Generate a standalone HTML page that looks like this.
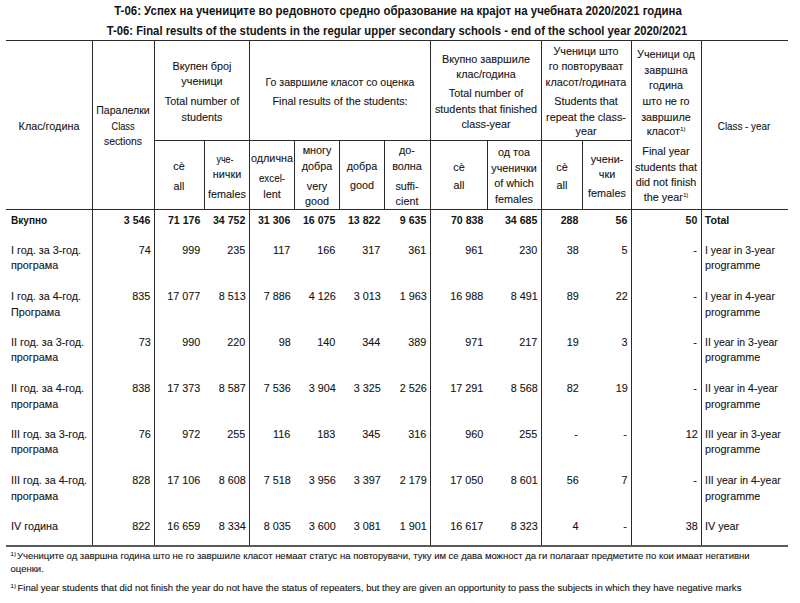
<!DOCTYPE html>
<html><head><meta charset="utf-8"><style>
html,body{margin:0;padding:0;background:#fff;width:800px;height:603px;overflow:hidden}
#root{position:relative;width:800px;height:603px;overflow:hidden;background:#fff}
.t{position:absolute;font-family:'Liberation Sans', sans-serif;font-size:10.8px;line-height:20px;white-space:nowrap;color:#141414;-webkit-text-stroke:0.1px #141414}
.b{-webkit-text-stroke:0}
.l{position:absolute;background:#2a2a2a}
sup{font-size:6px;vertical-align:0;position:relative;top:-4px;margin-left:0.3px}
sup.fs{font-size:6px;top:-3.5px;margin-left:0;margin-right:1px}
</style></head><body><div id="root">
<div class="l" style="left:6px;top:40px;width:782px;height:1px"></div>
<div class="l" style="left:6px;top:209px;width:782px;height:1px"></div>
<div class="l" style="left:6px;top:545px;width:782px;height:2px;background:#5a5a5a"></div>
<div class="l" style="left:154px;top:140px;width:477px;height:1px"></div>
<div class="l" style="left:92px;top:40px;width:1px;height:505px"></div>
<div class="l" style="left:154px;top:40px;width:1px;height:505px"></div>
<div class="l" style="left:249px;top:40px;width:1px;height:505px"></div>
<div class="l" style="left:430px;top:40px;width:1px;height:505px"></div>
<div class="l" style="left:541px;top:40px;width:1px;height:505px"></div>
<div class="l" style="left:631px;top:40px;width:1px;height:505px"></div>
<div class="l" style="left:701px;top:40px;width:1px;height:505px"></div>
<div class="l" style="left:204px;top:140px;width:1px;height:69px"></div>
<div class="l" style="left:294px;top:140px;width:1px;height:69px"></div>
<div class="l" style="left:339px;top:140px;width:1px;height:69px"></div>
<div class="l" style="left:384px;top:140px;width:1px;height:69px"></div>
<div class="l" style="left:487px;top:140px;width:1px;height:69px"></div>
<div class="l" style="left:582px;top:140px;width:1px;height:69px"></div>
<div class="t b" style="left:398.10px;top:1px;transform:translateX(-50%) scaleX(0.9152);font-size:12.5px;font-weight:700">T-06: Успех на учениците во редовното средно образование на крајот на учебната 2020/2021 година</div>
<div class="t b" style="left:396.60px;top:21px;transform:translateX(-50%) scaleX(0.9105);font-size:12.4px;font-weight:700">T-06: Final results of the students in the regular upper secondary schools - end of the school year 2020/2021</div>
<div class="t" style="left:49.40px;top:116px;transform:translateX(-50%) scaleX(0.9391);font-size:11.5px">Клас/година</div>
<div class="t" style="left:123.30px;top:100px;transform:translateX(-50%) scaleX(0.9166);font-size:11.5px">Паралелки</div>
<div class="t" style="left:123.30px;top:116px;transform:translateX(-50%) scaleX(0.7983);font-size:11.5px">Class</div>
<div class="t" style="left:123.30px;top:131px;transform:translateX(-50%) scaleX(0.9016);font-size:11.5px">sections</div>
<div class="t" style="left:201.80px;top:56px;transform:translateX(-50%) scaleX(0.9391);font-size:11.5px">Вкупен број</div>
<div class="t" style="left:201.80px;top:71px;transform:translateX(-50%) scaleX(0.9391);font-size:11.5px">ученици</div>
<div class="t" style="left:201.80px;top:91px;transform:translateX(-50%) scaleX(0.9391);font-size:11.5px">Total number of</div>
<div class="t" style="left:201.80px;top:107px;transform:translateX(-50%) scaleX(0.9391);font-size:11.5px">students</div>
<div class="t" style="left:339.80px;top:72px;transform:translateX(-50%) scaleX(0.9147);font-size:11.5px">Го завршиле класот со оценка</div>
<div class="t" style="left:339.80px;top:91px;transform:translateX(-50%) scaleX(0.9391);font-size:11.5px">Final results of the students:</div>
<div class="t" style="left:485.80px;top:49px;transform:translateX(-50%) scaleX(0.9391);font-size:11.5px">Вкупно завршиле</div>
<div class="t" style="left:485.80px;top:64px;transform:translateX(-50%) scaleX(0.9391);font-size:11.5px">клас/година</div>
<div class="t" style="left:485.80px;top:83px;transform:translateX(-50%) scaleX(0.9391);font-size:11.5px">Total number of</div>
<div class="t" style="left:485.80px;top:99px;transform:translateX(-50%) scaleX(0.9391);font-size:11.5px">students that finished</div>
<div class="t" style="left:485.80px;top:114px;transform:translateX(-50%) scaleX(0.9391);font-size:11.5px">class-year</div>
<div class="t" style="left:586.30px;top:41px;transform:translateX(-50%) scaleX(0.9391);font-size:11.5px">Ученици што</div>
<div class="t" style="left:586.30px;top:56px;transform:translateX(-50%) scaleX(0.9391);font-size:11.5px">го повторуваат</div>
<div class="t" style="left:586.30px;top:72px;transform:translateX(-50%) scaleX(0.9391);font-size:11.5px">класот/годината</div>
<div class="t" style="left:586.30px;top:91px;transform:translateX(-50%) scaleX(0.9391);font-size:11.5px">Students that</div>
<div class="t" style="left:586.30px;top:107px;transform:translateX(-50%) scaleX(0.9391);font-size:11.5px">repeat the class-</div>
<div class="t" style="left:586.30px;top:121px;transform:translateX(-50%) scaleX(0.9391);font-size:11.5px">year</div>
<div class="t" style="left:666.30px;top:44px;transform:translateX(-50%) scaleX(0.9391);font-size:11.5px">Ученици од</div>
<div class="t" style="left:666.30px;top:60px;transform:translateX(-50%) scaleX(0.9391);font-size:11.5px">завршна</div>
<div class="t" style="left:666.30px;top:75px;transform:translateX(-50%) scaleX(0.9391);font-size:11.5px">година</div>
<div class="t" style="left:666.30px;top:91px;transform:translateX(-50%) scaleX(0.9391);font-size:11.5px">што не го</div>
<div class="t" style="left:666.30px;top:107px;transform:translateX(-50%) scaleX(0.9391);font-size:11.5px">завршиле</div>
<div class="t" style="left:666.30px;top:121px;transform:translateX(-50%) scaleX(0.9391);font-size:11.5px">класот<sup>1)</sup></div>
<div class="t" style="left:666.30px;top:141px;transform:translateX(-50%) scaleX(0.9391);font-size:11.5px">Final year</div>
<div class="t" style="left:666.30px;top:157px;transform:translateX(-50%) scaleX(0.9391);font-size:11.5px">students that</div>
<div class="t" style="left:666.30px;top:172px;transform:translateX(-50%) scaleX(0.9391);font-size:11.5px">did not finish</div>
<div class="t" style="left:666.30px;top:187px;transform:translateX(-50%) scaleX(0.9391);font-size:11.5px">the year<sup>1)</sup></div>
<div class="t" style="left:744.30px;top:116px;transform:translateX(-50%) scaleX(0.8546);font-size:11.5px">Class - year</div>
<div class="t" style="left:179.30px;top:156px;transform:translateX(-50%) scaleX(0.9391);font-size:11.5px">сè</div>
<div class="t" style="left:179.30px;top:176px;transform:translateX(-50%) scaleX(0.9391);font-size:11.5px">all</div>
<div class="t" style="left:225.30px;top:149px;transform:translateX(-50%) scaleX(0.7795);font-size:11.5px">уче-</div>
<div class="t" style="left:226.80px;top:164px;transform:translateX(-50%) scaleX(0.9391);font-size:11.5px">нички</div>
<div class="t" style="left:226.80px;top:184px;transform:translateX(-50%) scaleX(0.9391);font-size:11.5px">females</div>
<div class="t" style="left:272.00px;top:148px;transform:translateX(-50%) scaleX(0.9391);font-size:11.5px">одлична</div>
<div class="t" style="left:272.00px;top:168px;transform:translateX(-50%) scaleX(0.8546);font-size:11.5px">excel-</div>
<div class="t" style="left:272.00px;top:184px;transform:translateX(-50%) scaleX(0.9391);font-size:11.5px">lent</div>
<div class="t" style="left:316.80px;top:140px;transform:translateX(-50%) scaleX(0.9391);font-size:11.5px">многу</div>
<div class="t" style="left:316.80px;top:156px;transform:translateX(-50%) scaleX(0.9391);font-size:11.5px">добра</div>
<div class="t" style="left:316.80px;top:176px;transform:translateX(-50%) scaleX(0.9391);font-size:11.5px">very</div>
<div class="t" style="left:316.80px;top:191px;transform:translateX(-50%) scaleX(0.9391);font-size:11.5px">good</div>
<div class="t" style="left:362.00px;top:156px;transform:translateX(-50%) scaleX(0.9391);font-size:11.5px">добра</div>
<div class="t" style="left:362.00px;top:175px;transform:translateX(-50%) scaleX(0.9391);font-size:11.5px">good</div>
<div class="t" style="left:407.30px;top:140px;transform:translateX(-50%) scaleX(0.9391);font-size:11.5px">до-</div>
<div class="t" style="left:407.30px;top:156px;transform:translateX(-50%) scaleX(0.9391);font-size:11.5px">волна</div>
<div class="t" style="left:407.30px;top:176px;transform:translateX(-50%) scaleX(0.9391);font-size:11.5px">suffi-</div>
<div class="t" style="left:407.30px;top:191px;transform:translateX(-50%) scaleX(0.9391);font-size:11.5px">cient</div>
<div class="t" style="left:458.80px;top:157px;transform:translateX(-50%) scaleX(0.9391);font-size:11.5px">сè</div>
<div class="t" style="left:458.80px;top:175px;transform:translateX(-50%) scaleX(0.9391);font-size:11.5px">all</div>
<div class="t" style="left:514.30px;top:142px;transform:translateX(-50%) scaleX(0.9391);font-size:11.5px">од тоа</div>
<div class="t" style="left:514.30px;top:158px;transform:translateX(-50%) scaleX(0.9391);font-size:11.5px">ученички</div>
<div class="t" style="left:514.30px;top:173px;transform:translateX(-50%) scaleX(0.9391);font-size:11.5px">of which</div>
<div class="t" style="left:514.30px;top:189px;transform:translateX(-50%) scaleX(0.9391);font-size:11.5px">females</div>
<div class="t" style="left:561.80px;top:157px;transform:translateX(-50%) scaleX(0.9391);font-size:11.5px">сè</div>
<div class="t" style="left:561.80px;top:175px;transform:translateX(-50%) scaleX(0.9391);font-size:11.5px">all</div>
<div class="t" style="left:606.80px;top:149px;transform:translateX(-50%) scaleX(0.9391);font-size:11.5px">учени-</div>
<div class="t" style="left:606.80px;top:164px;transform:translateX(-50%) scaleX(0.9391);font-size:11.5px">чки</div>
<div class="t" style="left:606.80px;top:183px;transform:translateX(-50%) scaleX(0.9391);font-size:11.5px">females</div>
<div class="t b" style="left:11.00px;top:210px;transform:scaleX(0.9500);transform-origin:left;font-size:10.6px;font-weight:700">Вкупно</div>
<div class="t b" style="right:649.70px;text-align:right;top:210px;font-size:10.6px;font-weight:700">3 546</div>
<div class="t b" style="right:599.70px;text-align:right;top:210px;font-size:10.6px;font-weight:700">71 176</div>
<div class="t b" style="right:554.70px;text-align:right;top:210px;font-size:10.6px;font-weight:700">34 752</div>
<div class="t b" style="right:509.70px;text-align:right;top:210px;font-size:10.6px;font-weight:700">31 306</div>
<div class="t b" style="right:464.70px;text-align:right;top:210px;font-size:10.6px;font-weight:700">16 075</div>
<div class="t b" style="right:419.70px;text-align:right;top:210px;font-size:10.6px;font-weight:700">13 822</div>
<div class="t b" style="right:373.70px;text-align:right;top:210px;font-size:10.6px;font-weight:700">9 635</div>
<div class="t b" style="right:316.70px;text-align:right;top:210px;font-size:10.6px;font-weight:700">70 838</div>
<div class="t b" style="right:262.70px;text-align:right;top:210px;font-size:10.6px;font-weight:700">34 685</div>
<div class="t b" style="right:221.70px;text-align:right;top:210px;font-size:10.6px;font-weight:700">288</div>
<div class="t b" style="right:172.70px;text-align:right;top:210px;font-size:10.6px;font-weight:700">56</div>
<div class="t b" style="right:102.70px;text-align:right;top:210px;font-size:10.6px;font-weight:700">50</div>
<div class="t b" style="left:704.80px;top:210px;font-size:10.6px;font-weight:700">Total</div>
<div class="t" style="left:11.00px;top:240px;transform:scaleX(0.9391);transform-origin:left;font-size:11.5px">I год. за 3-год.</div>
<div class="t" style="left:11.00px;top:255px;transform:scaleX(0.9391);transform-origin:left;font-size:11.5px">програма</div>
<div class="t" style="right:649.70px;text-align:right;top:240px;transform:scaleX(0.9391);transform-origin:right;font-size:11.5px">74</div>
<div class="t" style="right:599.70px;text-align:right;top:240px;transform:scaleX(0.9391);transform-origin:right;font-size:11.5px">999</div>
<div class="t" style="right:554.70px;text-align:right;top:240px;transform:scaleX(0.9391);transform-origin:right;font-size:11.5px">235</div>
<div class="t" style="right:509.70px;text-align:right;top:240px;transform:scaleX(0.9391);transform-origin:right;font-size:11.5px">117</div>
<div class="t" style="right:464.70px;text-align:right;top:240px;transform:scaleX(0.9391);transform-origin:right;font-size:11.5px">166</div>
<div class="t" style="right:419.70px;text-align:right;top:240px;transform:scaleX(0.9391);transform-origin:right;font-size:11.5px">317</div>
<div class="t" style="right:373.70px;text-align:right;top:240px;transform:scaleX(0.9391);transform-origin:right;font-size:11.5px">361</div>
<div class="t" style="right:316.70px;text-align:right;top:240px;transform:scaleX(0.9391);transform-origin:right;font-size:11.5px">961</div>
<div class="t" style="right:262.70px;text-align:right;top:240px;transform:scaleX(0.9391);transform-origin:right;font-size:11.5px">230</div>
<div class="t" style="right:221.70px;text-align:right;top:240px;transform:scaleX(0.9391);transform-origin:right;font-size:11.5px">38</div>
<div class="t" style="right:172.70px;text-align:right;top:240px;transform:scaleX(0.9391);transform-origin:right;font-size:11.5px">5</div>
<div class="t" style="right:102.70px;text-align:right;top:240px;transform:scaleX(0.9391);transform-origin:right;font-size:11.5px">-</div>
<div class="t" style="left:704.80px;top:240px;transform:scaleX(0.9110);transform-origin:left;font-size:11.5px">I year in 3-year</div>
<div class="t" style="left:704.80px;top:255px;transform:scaleX(0.9391);transform-origin:left;font-size:11.5px">programme</div>
<div class="t" style="left:11.00px;top:286px;transform:scaleX(0.9391);transform-origin:left;font-size:11.5px">I год. за 4-год.</div>
<div class="t" style="left:11.00px;top:302px;transform:scaleX(0.9391);transform-origin:left;font-size:11.5px">Програма</div>
<div class="t" style="right:649.70px;text-align:right;top:286px;transform:scaleX(0.9391);transform-origin:right;font-size:11.5px">835</div>
<div class="t" style="right:599.70px;text-align:right;top:286px;transform:scaleX(0.9391);transform-origin:right;font-size:11.5px">17 077</div>
<div class="t" style="right:554.70px;text-align:right;top:286px;transform:scaleX(0.9391);transform-origin:right;font-size:11.5px">8 513</div>
<div class="t" style="right:509.70px;text-align:right;top:286px;transform:scaleX(0.9391);transform-origin:right;font-size:11.5px">7 886</div>
<div class="t" style="right:464.70px;text-align:right;top:286px;transform:scaleX(0.9391);transform-origin:right;font-size:11.5px">4 126</div>
<div class="t" style="right:419.70px;text-align:right;top:286px;transform:scaleX(0.9391);transform-origin:right;font-size:11.5px">3 013</div>
<div class="t" style="right:373.70px;text-align:right;top:286px;transform:scaleX(0.9391);transform-origin:right;font-size:11.5px">1 963</div>
<div class="t" style="right:316.70px;text-align:right;top:286px;transform:scaleX(0.9391);transform-origin:right;font-size:11.5px">16 988</div>
<div class="t" style="right:262.70px;text-align:right;top:286px;transform:scaleX(0.9391);transform-origin:right;font-size:11.5px">8 491</div>
<div class="t" style="right:221.70px;text-align:right;top:286px;transform:scaleX(0.9391);transform-origin:right;font-size:11.5px">89</div>
<div class="t" style="right:172.70px;text-align:right;top:286px;transform:scaleX(0.9391);transform-origin:right;font-size:11.5px">22</div>
<div class="t" style="right:102.70px;text-align:right;top:286px;transform:scaleX(0.9391);transform-origin:right;font-size:11.5px">-</div>
<div class="t" style="left:704.80px;top:286px;transform:scaleX(0.9110);transform-origin:left;font-size:11.5px">I year in 4-year</div>
<div class="t" style="left:704.80px;top:302px;transform:scaleX(0.9391);transform-origin:left;font-size:11.5px">programme</div>
<div class="t" style="left:11.00px;top:332px;transform:scaleX(0.9391);transform-origin:left;font-size:11.5px">II год. за 3-год.</div>
<div class="t" style="left:11.00px;top:347px;transform:scaleX(0.9391);transform-origin:left;font-size:11.5px">програма</div>
<div class="t" style="right:649.70px;text-align:right;top:332px;transform:scaleX(0.9391);transform-origin:right;font-size:11.5px">73</div>
<div class="t" style="right:599.70px;text-align:right;top:332px;transform:scaleX(0.9391);transform-origin:right;font-size:11.5px">990</div>
<div class="t" style="right:554.70px;text-align:right;top:332px;transform:scaleX(0.9391);transform-origin:right;font-size:11.5px">220</div>
<div class="t" style="right:509.70px;text-align:right;top:332px;transform:scaleX(0.9391);transform-origin:right;font-size:11.5px">98</div>
<div class="t" style="right:464.70px;text-align:right;top:332px;transform:scaleX(0.9391);transform-origin:right;font-size:11.5px">140</div>
<div class="t" style="right:419.70px;text-align:right;top:332px;transform:scaleX(0.9391);transform-origin:right;font-size:11.5px">344</div>
<div class="t" style="right:373.70px;text-align:right;top:332px;transform:scaleX(0.9391);transform-origin:right;font-size:11.5px">389</div>
<div class="t" style="right:316.70px;text-align:right;top:332px;transform:scaleX(0.9391);transform-origin:right;font-size:11.5px">971</div>
<div class="t" style="right:262.70px;text-align:right;top:332px;transform:scaleX(0.9391);transform-origin:right;font-size:11.5px">217</div>
<div class="t" style="right:221.70px;text-align:right;top:332px;transform:scaleX(0.9391);transform-origin:right;font-size:11.5px">19</div>
<div class="t" style="right:172.70px;text-align:right;top:332px;transform:scaleX(0.9391);transform-origin:right;font-size:11.5px">3</div>
<div class="t" style="right:102.70px;text-align:right;top:332px;transform:scaleX(0.9391);transform-origin:right;font-size:11.5px">-</div>
<div class="t" style="left:704.80px;top:332px;transform:scaleX(0.9110);transform-origin:left;font-size:11.5px">II year in 3-year</div>
<div class="t" style="left:704.80px;top:347px;transform:scaleX(0.9391);transform-origin:left;font-size:11.5px">programme</div>
<div class="t" style="left:11.00px;top:378px;transform:scaleX(0.9391);transform-origin:left;font-size:11.5px">II год. за 4-год.</div>
<div class="t" style="left:11.00px;top:394px;transform:scaleX(0.9391);transform-origin:left;font-size:11.5px">програма</div>
<div class="t" style="right:649.70px;text-align:right;top:378px;transform:scaleX(0.9391);transform-origin:right;font-size:11.5px">838</div>
<div class="t" style="right:599.70px;text-align:right;top:378px;transform:scaleX(0.9391);transform-origin:right;font-size:11.5px">17 373</div>
<div class="t" style="right:554.70px;text-align:right;top:378px;transform:scaleX(0.9391);transform-origin:right;font-size:11.5px">8 587</div>
<div class="t" style="right:509.70px;text-align:right;top:378px;transform:scaleX(0.9391);transform-origin:right;font-size:11.5px">7 536</div>
<div class="t" style="right:464.70px;text-align:right;top:378px;transform:scaleX(0.9391);transform-origin:right;font-size:11.5px">3 904</div>
<div class="t" style="right:419.70px;text-align:right;top:378px;transform:scaleX(0.9391);transform-origin:right;font-size:11.5px">3 325</div>
<div class="t" style="right:373.70px;text-align:right;top:378px;transform:scaleX(0.9391);transform-origin:right;font-size:11.5px">2 526</div>
<div class="t" style="right:316.70px;text-align:right;top:378px;transform:scaleX(0.9391);transform-origin:right;font-size:11.5px">17 291</div>
<div class="t" style="right:262.70px;text-align:right;top:378px;transform:scaleX(0.9391);transform-origin:right;font-size:11.5px">8 568</div>
<div class="t" style="right:221.70px;text-align:right;top:378px;transform:scaleX(0.9391);transform-origin:right;font-size:11.5px">82</div>
<div class="t" style="right:172.70px;text-align:right;top:378px;transform:scaleX(0.9391);transform-origin:right;font-size:11.5px">19</div>
<div class="t" style="right:102.70px;text-align:right;top:378px;transform:scaleX(0.9391);transform-origin:right;font-size:11.5px">-</div>
<div class="t" style="left:704.80px;top:378px;transform:scaleX(0.9110);transform-origin:left;font-size:11.5px">II year in 4-year</div>
<div class="t" style="left:704.80px;top:394px;transform:scaleX(0.9391);transform-origin:left;font-size:11.5px">programme</div>
<div class="t" style="left:11.00px;top:424px;transform:scaleX(0.9391);transform-origin:left;font-size:11.5px">III год. за 3-год.</div>
<div class="t" style="left:11.00px;top:439px;transform:scaleX(0.9391);transform-origin:left;font-size:11.5px">програма</div>
<div class="t" style="right:649.70px;text-align:right;top:424px;transform:scaleX(0.9391);transform-origin:right;font-size:11.5px">76</div>
<div class="t" style="right:599.70px;text-align:right;top:424px;transform:scaleX(0.9391);transform-origin:right;font-size:11.5px">972</div>
<div class="t" style="right:554.70px;text-align:right;top:424px;transform:scaleX(0.9391);transform-origin:right;font-size:11.5px">255</div>
<div class="t" style="right:509.70px;text-align:right;top:424px;transform:scaleX(0.9391);transform-origin:right;font-size:11.5px">116</div>
<div class="t" style="right:464.70px;text-align:right;top:424px;transform:scaleX(0.9391);transform-origin:right;font-size:11.5px">183</div>
<div class="t" style="right:419.70px;text-align:right;top:424px;transform:scaleX(0.9391);transform-origin:right;font-size:11.5px">345</div>
<div class="t" style="right:373.70px;text-align:right;top:424px;transform:scaleX(0.9391);transform-origin:right;font-size:11.5px">316</div>
<div class="t" style="right:316.70px;text-align:right;top:424px;transform:scaleX(0.9391);transform-origin:right;font-size:11.5px">960</div>
<div class="t" style="right:262.70px;text-align:right;top:424px;transform:scaleX(0.9391);transform-origin:right;font-size:11.5px">255</div>
<div class="t" style="right:221.70px;text-align:right;top:424px;transform:scaleX(0.9391);transform-origin:right;font-size:11.5px">-</div>
<div class="t" style="right:172.70px;text-align:right;top:424px;transform:scaleX(0.9391);transform-origin:right;font-size:11.5px">-</div>
<div class="t" style="right:102.70px;text-align:right;top:424px;transform:scaleX(0.9391);transform-origin:right;font-size:11.5px">12</div>
<div class="t" style="left:704.80px;top:424px;transform:scaleX(0.9110);transform-origin:left;font-size:11.5px">III year in 3-year</div>
<div class="t" style="left:704.80px;top:439px;transform:scaleX(0.9391);transform-origin:left;font-size:11.5px">programme</div>
<div class="t" style="left:11.00px;top:470px;transform:scaleX(0.9391);transform-origin:left;font-size:11.5px">III год. за 4-год.</div>
<div class="t" style="left:11.00px;top:486px;transform:scaleX(0.9391);transform-origin:left;font-size:11.5px">програма</div>
<div class="t" style="right:649.70px;text-align:right;top:470px;transform:scaleX(0.9391);transform-origin:right;font-size:11.5px">828</div>
<div class="t" style="right:599.70px;text-align:right;top:470px;transform:scaleX(0.9391);transform-origin:right;font-size:11.5px">17 106</div>
<div class="t" style="right:554.70px;text-align:right;top:470px;transform:scaleX(0.9391);transform-origin:right;font-size:11.5px">8 608</div>
<div class="t" style="right:509.70px;text-align:right;top:470px;transform:scaleX(0.9391);transform-origin:right;font-size:11.5px">7 518</div>
<div class="t" style="right:464.70px;text-align:right;top:470px;transform:scaleX(0.9391);transform-origin:right;font-size:11.5px">3 956</div>
<div class="t" style="right:419.70px;text-align:right;top:470px;transform:scaleX(0.9391);transform-origin:right;font-size:11.5px">3 397</div>
<div class="t" style="right:373.70px;text-align:right;top:470px;transform:scaleX(0.9391);transform-origin:right;font-size:11.5px">2 179</div>
<div class="t" style="right:316.70px;text-align:right;top:470px;transform:scaleX(0.9391);transform-origin:right;font-size:11.5px">17 050</div>
<div class="t" style="right:262.70px;text-align:right;top:470px;transform:scaleX(0.9391);transform-origin:right;font-size:11.5px">8 601</div>
<div class="t" style="right:221.70px;text-align:right;top:470px;transform:scaleX(0.9391);transform-origin:right;font-size:11.5px">56</div>
<div class="t" style="right:172.70px;text-align:right;top:470px;transform:scaleX(0.9391);transform-origin:right;font-size:11.5px">7</div>
<div class="t" style="right:102.70px;text-align:right;top:470px;transform:scaleX(0.9391);transform-origin:right;font-size:11.5px">-</div>
<div class="t" style="left:704.80px;top:470px;transform:scaleX(0.9110);transform-origin:left;font-size:11.5px">III year in 4-year</div>
<div class="t" style="left:704.80px;top:486px;transform:scaleX(0.9391);transform-origin:left;font-size:11.5px">programme</div>
<div class="t" style="left:11.00px;top:516px;transform:scaleX(0.9391);transform-origin:left;font-size:11.5px">IV година</div>
<div class="t" style="right:649.70px;text-align:right;top:516px;transform:scaleX(0.9391);transform-origin:right;font-size:11.5px">822</div>
<div class="t" style="right:599.70px;text-align:right;top:516px;transform:scaleX(0.9391);transform-origin:right;font-size:11.5px">16 659</div>
<div class="t" style="right:554.70px;text-align:right;top:516px;transform:scaleX(0.9391);transform-origin:right;font-size:11.5px">8 334</div>
<div class="t" style="right:509.70px;text-align:right;top:516px;transform:scaleX(0.9391);transform-origin:right;font-size:11.5px">8 035</div>
<div class="t" style="right:464.70px;text-align:right;top:516px;transform:scaleX(0.9391);transform-origin:right;font-size:11.5px">3 600</div>
<div class="t" style="right:419.70px;text-align:right;top:516px;transform:scaleX(0.9391);transform-origin:right;font-size:11.5px">3 081</div>
<div class="t" style="right:373.70px;text-align:right;top:516px;transform:scaleX(0.9391);transform-origin:right;font-size:11.5px">1 901</div>
<div class="t" style="right:316.70px;text-align:right;top:516px;transform:scaleX(0.9391);transform-origin:right;font-size:11.5px">16 617</div>
<div class="t" style="right:262.70px;text-align:right;top:516px;transform:scaleX(0.9391);transform-origin:right;font-size:11.5px">8 323</div>
<div class="t" style="right:221.70px;text-align:right;top:516px;transform:scaleX(0.9391);transform-origin:right;font-size:11.5px">4</div>
<div class="t" style="right:172.70px;text-align:right;top:516px;transform:scaleX(0.9391);transform-origin:right;font-size:11.5px">-</div>
<div class="t" style="right:102.70px;text-align:right;top:516px;transform:scaleX(0.9391);transform-origin:right;font-size:11.5px">38</div>
<div class="t" style="left:704.80px;top:516px;transform:scaleX(0.9391);transform-origin:left;font-size:11.5px">IV year</div>
<div class="t" style="left:10.60px;top:546px;font-size:9.49px"><sup class="fs">1)</sup>Учениците од завршна година што не го завршиле класот немаат статус на повторувачи, туку им се дава можност да ги полагаат предметите по кои имаат негативни</div>
<div class="t" style="left:10.60px;top:559px;font-size:9.49px">оценки.</div>
<div class="t" style="left:10.60px;top:578px;font-size:9.57px"><sup class="fs" style="margin-right:1.5px">1)</sup>Final year students that did not finish the year do not have the status of repeaters, but they are given an opportunity to pass the subjects in which they have negative marks</div>
</div></body></html>
